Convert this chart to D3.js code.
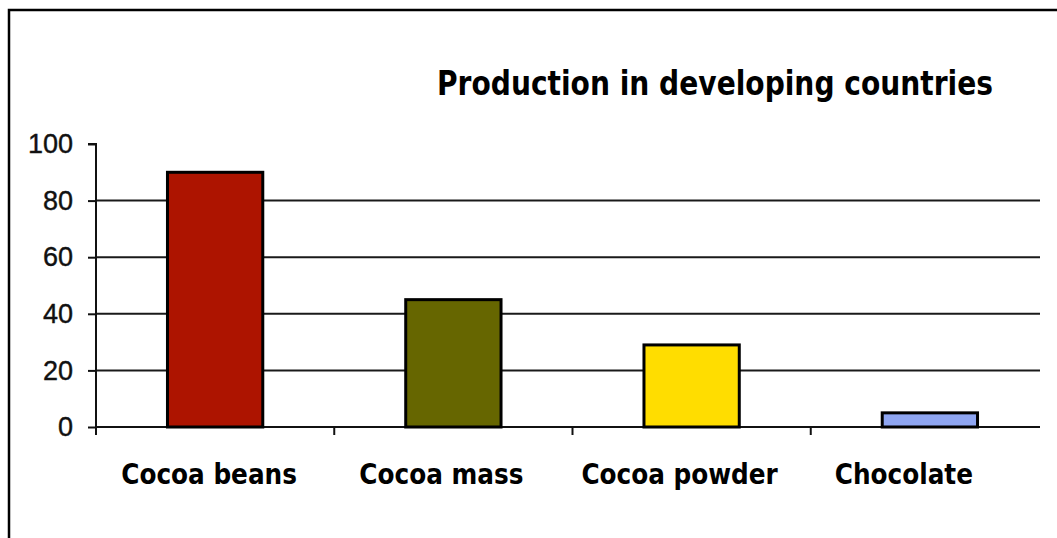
<!DOCTYPE html>
<html>
<head>
<meta charset="utf-8">
<script src="https://cdn.jsdelivr.net/npm/d3@7"></script>
<style>
  html, body { margin: 0; padding: 0; background: #fff; }
  svg { display: block; }
</style>
</head>
<body>
<script>
// Chart data
const categories = ["Cocoa beans", "Cocoa mass", "Cocoa powder", "Chocolate"];
const values = [90, 45, 29, 5];
const barColors = ["#AD1400", "#666600", "#FFDD00", "#8FA6F2"];
const yTickValues = [0, 20, 40, 60, 80, 100];
const titleText = "Production in developing countries";

// Layout
const W = 1057, H = 538;
const plot = { left: 96, right: 1040, top: 144, bottom: 427 };
const labelNudge = [-6, -12, -12, -26];

const svg = d3.select("body").append("svg")
  .attr("width", W).attr("height", H);

// Outer frame (runs off the right and bottom edges)
svg.append("path")
  .attr("d", `M9,${H + 5} V10 H${W + 5}`)
  .attr("fill", "none").attr("stroke", "#000").attr("stroke-width", 2.5);

const x = d3.scaleBand()
  .domain(categories)
  .range([plot.left, 1049])
  .paddingInner(0.6)
  .paddingOuter(0.3);

const y = d3.scaleLinear()
  .domain([0, 100])
  .range([plot.bottom, plot.top]);

// Horizontal gridlines
svg.append("g")
  .selectAll("line")
  .data(yTickValues.filter(v => v > 0 && v < 100))
  .join("line")
  .attr("x1", plot.left).attr("x2", plot.right)
  .attr("y1", d => y(d)).attr("y2", d => y(d))
  .attr("stroke", "#1a1a1a").attr("stroke-width", 2);

// Y axis
const yAxis = svg.append("g")
  .attr("transform", `translate(${plot.left},0)`)
  .call(d3.axisLeft(y).tickValues(yTickValues).tickSize(8).tickPadding(15));
yAxis.select(".domain").attr("stroke", "#111").attr("stroke-width", 2)
  .attr("d", `M-8,${plot.top}H0V${plot.bottom + 8}`);
yAxis.selectAll(".tick line").attr("stroke", "#111").attr("stroke-width", 2);
yAxis.selectAll(".tick text")
  .attr("font-family", "'Liberation Sans', Arial, sans-serif")
  .attr("font-size", 27).attr("fill", "#111")
  .attr("stroke", "#111").attr("stroke-width", 0.4);

// X axis line and category separators
const xAxisG = svg.append("g");
xAxisG.append("line")
  .attr("x1", plot.left).attr("x2", plot.right)
  .attr("y1", plot.bottom).attr("y2", plot.bottom)
  .attr("stroke", "#111").attr("stroke-width", 2);
xAxisG.selectAll("line.sep")
  .data(categories.slice(1))
  .join("line").attr("class", "sep")
  .attr("x1", d => x(d) - x.step() * x.paddingInner() / 2)
  .attr("x2", d => x(d) - x.step() * x.paddingInner() / 2)
  .attr("y1", plot.bottom).attr("y2", plot.bottom + 8)
  .attr("stroke", "#111").attr("stroke-width", 2);

// Bars
svg.append("g")
  .selectAll("rect")
  .data(categories)
  .join("rect")
  .attr("x", d => x(d))
  .attr("width", x.bandwidth())
  .attr("y", (d, i) => y(values[i]))
  .attr("height", (d, i) => y(0) - y(values[i]))
  .attr("fill", (d, i) => barColors[i])
  .attr("stroke", "#000").attr("stroke-width", 3);

// Category labels
svg.append("g")
  .selectAll("text")
  .data(categories)
  .join("text")
  .attr("x", (d, i) => x(d) + x.bandwidth() / 2 + labelNudge[i])
  .attr("y", 484)
  .attr("text-anchor", "middle")
  .attr("font-family", "'DejaVu Sans Condensed', 'DejaVu Sans', sans-serif")
  .attr("font-weight", "bold")
  .attr("font-size", 27.5)
  .attr("fill", "#000")
  .text(d => d);

// Title
svg.append("text")
  .attr("x", 437).attr("y", 95)
  .attr("font-family", "'DejaVu Sans Condensed', 'DejaVu Sans', sans-serif")
  .attr("font-weight", "bold")
  .attr("font-size", 33)
  .attr("textLength", 556)
  .attr("lengthAdjust", "spacingAndGlyphs")
  .attr("fill", "#000")
  .text(titleText);
</script>
</body>
</html>
